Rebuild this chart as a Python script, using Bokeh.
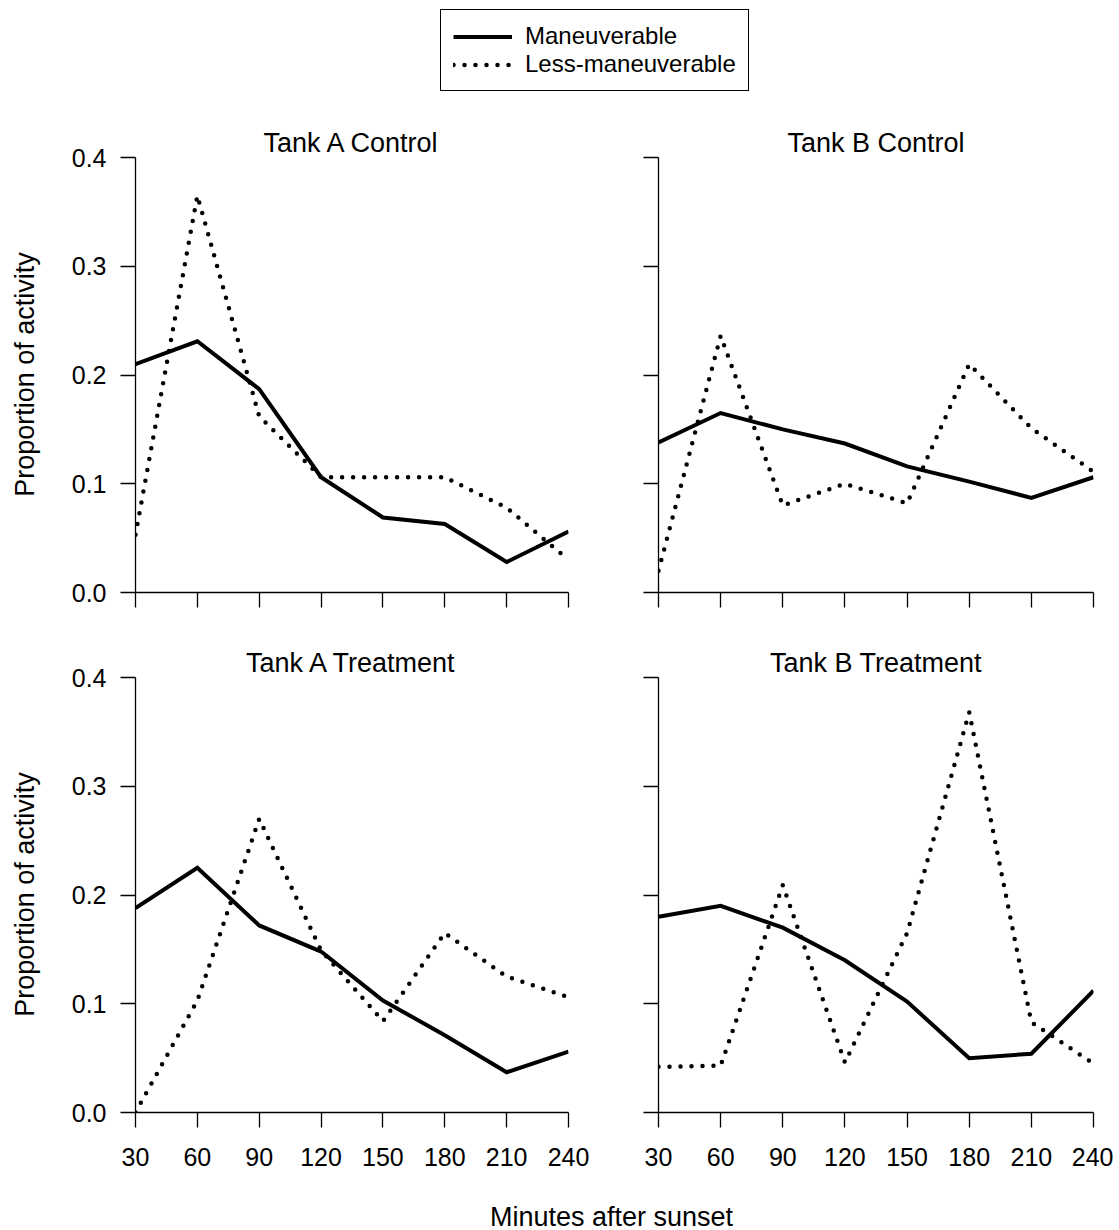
import math
from bokeh.plotting import figure
from bokeh.layouts import column, row
from bokeh.models import (Range1d, Legend, LegendItem, Label, FixedTicker,
                          PrintfTickFormatter, CustomLabelingPolicy)
from bokeh.embed import file_html
from bokeh.resources import INLINE

# ---------------- data ----------------
minutes = [30, 60, 90, 120, 150, 180, 210, 240]
y_ticks = [0.0, 0.1, 0.2, 0.3, 0.4]

panel_titles = ["Tank A Control", "Tank B Control", "Tank A Treatment", "Tank B Treatment"]
series_names = ["Maneuverable", "Less-maneuverable"]

tank_a_control_man = [0.210, 0.231, 0.187, 0.106, 0.069, 0.063, 0.028, 0.056]
tank_a_control_less = [0.053, 0.365, 0.162, 0.106, 0.106, 0.106, 0.078, 0.030]
tank_b_control_man = [0.138, 0.165, 0.150, 0.137, 0.116, 0.102, 0.087, 0.106]
tank_b_control_less = [0.020, 0.236, 0.080, 0.100, 0.082, 0.210, 0.151, 0.111]
tank_a_treat_man = [0.188, 0.225, 0.172, 0.148, 0.103, 0.071, 0.037, 0.056]
tank_a_treat_less = [0.000, 0.103, 0.270, 0.149, 0.084, 0.165, 0.125, 0.106]
tank_b_treat_man = [0.180, 0.190, 0.170, 0.140, 0.102, 0.050, 0.054, 0.112]
tank_b_treat_less = [0.042, 0.043, 0.209, 0.046, 0.165, 0.368, 0.083, 0.045]

y_label = "Proportion of activity"
x_label = "Minutes after sunset"

FONT = "Liberation Sans"
DOT = "0 11"
LABEL_SIZE = "27px"
TICK_SIZE = "25px"


def blank_fig(w, h):
    f = figure(width=w, height=h, x_range=Range1d(0, 1), y_range=Range1d(0, 1),
               output_backend="svg", toolbar_location=None, min_border=0,
               outline_line_color=None)
    f.axis.visible = False
    f.grid.visible = False
    return f


def hide_labels(ax):
    ax.major_label_text_font_size = "0px"
    ax.major_label_standoff = 0
    ax.major_label_policy = CustomLabelingPolicy(code="return new Set()")


def panel(title, man, less, w, h, bl, br, bt, bb, show_x, show_y):
    p = figure(width=w, height=h, x_range=Range1d(minutes[0], minutes[-1]),
               y_range=Range1d(y_ticks[0], y_ticks[-1]),
               output_backend="svg", toolbar_location=None,
               min_border_left=bl, min_border_right=br,
               min_border_top=bt, min_border_bottom=bb,
               outline_line_color=None)
    p.grid.visible = False
    p.xaxis.ticker = FixedTicker(ticks=minutes)
    p.yaxis.ticker = FixedTicker(ticks=y_ticks)
    p.yaxis.formatter = PrintfTickFormatter(format="%.1f")
    for ax in p.axis:
        ax.axis_line_color = "black"
        ax.axis_line_width = 1.3
        ax.major_tick_line_color = "black"
        ax.major_tick_line_width = 1.3
        ax.major_tick_out = 15
        ax.major_tick_in = 0
        ax.minor_tick_line_color = None
        ax.major_label_text_font = FONT
        ax.major_label_text_color = "black"
        ax.major_label_text_font_size = TICK_SIZE
    p.xaxis.major_label_standoff = 20
    p.yaxis.major_label_standoff = 14
    if not show_x:
        for ax in p.xaxis:
            hide_labels(ax)
    if not show_y:
        for ax in p.yaxis:
            hide_labels(ax)

    p.line(minutes, man, line_width=4, line_color="black", line_join="miter")
    p.line(minutes, less, line_width=4.5, line_color="black", line_dash=DOT,
           line_cap="round")

    p.title.text = title
    p.title.align = "center"
    p.title.text_font = FONT
    p.title.text_font_size = LABEL_SIZE
    p.title.text_font_style = "normal"
    p.title.text_color = "black"
    p.title.standoff = 0
    return p


# ---------------- legend ----------------
leg_fig = blank_fig(1113, 100)
# renderers lie outside the (0..1) view: only their legend glyphs are seen
r1 = leg_fig.line(minutes, tank_a_control_man, line_width=4, line_color="black")
r2 = leg_fig.line(minutes, tank_a_control_less, line_width=4.5, line_color="black",
                  line_dash=DOT, line_cap="round")
legend = Legend(items=[LegendItem(label=series_names[0], renderers=[r1]),
                       LegendItem(label=series_names[1], renderers=[r2])],
                location=(440, 9), padding=12, spacing=0, margin=0,
                glyph_width=59, glyph_height=27, label_height=27,
                label_standoff=13, label_text_font=FONT,
                label_text_font_size="24px", label_text_color="black",
                border_line_color="black", border_line_width=1.5,
                border_line_alpha=1,
                background_fill_color="white", background_fill_alpha=1)
leg_fig.add_layout(legend)

# ---------------- rows ----------------
row1_h = 525
row2_h = 555
strip_w = 48

# strip frames line up with the panel frames of their row (frame bottom = y 0)
strip1 = blank_fig(strip_w, row1_h)
strip1.add_layout(Label(x=24, y=218, x_units="screen", y_units="screen",
                        text=y_label, angle=math.pi / 2, text_align="center",
                        text_baseline="middle", text_font=FONT, text_font_size=LABEL_SIZE,
                        text_color="black"))
strip2 = blank_fig(strip_w, row2_h)
strip2.add_layout(Label(x=24, y=218, x_units="screen", y_units="screen",
                        text=y_label, angle=math.pi / 2, text_align="center",
                        text_baseline="middle", text_font=FONT, text_font_size=LABEL_SIZE,
                        text_color="black"))

tl = panel(panel_titles[0], tank_a_control_man, tank_a_control_less,
           542, row1_h, 87, 22, 57, 33, False, True)
tr = panel(panel_titles[1], tank_b_control_man, tank_b_control_less,
           523, row1_h, 68, 20, 57, 33, False, False)
bl = panel(panel_titles[2], tank_a_treat_man, tank_a_treat_less,
           542, row2_h, 87, 22, 52, 68, True, True)
br = panel(panel_titles[3], tank_b_treat_man, tank_b_treat_less,
           523, row2_h, 68, 20, 52, 68, True, False)

xlab_fig = blank_fig(1113, 50)
xlab_fig.add_layout(Label(x=611, y=14, x_units="screen", y_units="screen",
                          text=x_label, text_align="center", text_baseline="middle",
                          text_font=FONT, text_font_size=LABEL_SIZE, text_color="black"))

layout = column(leg_fig, row(strip1, tl, tr), row(strip2, bl, br), xlab_fig)

open("out.html", "w").write(file_html(layout, INLINE))
